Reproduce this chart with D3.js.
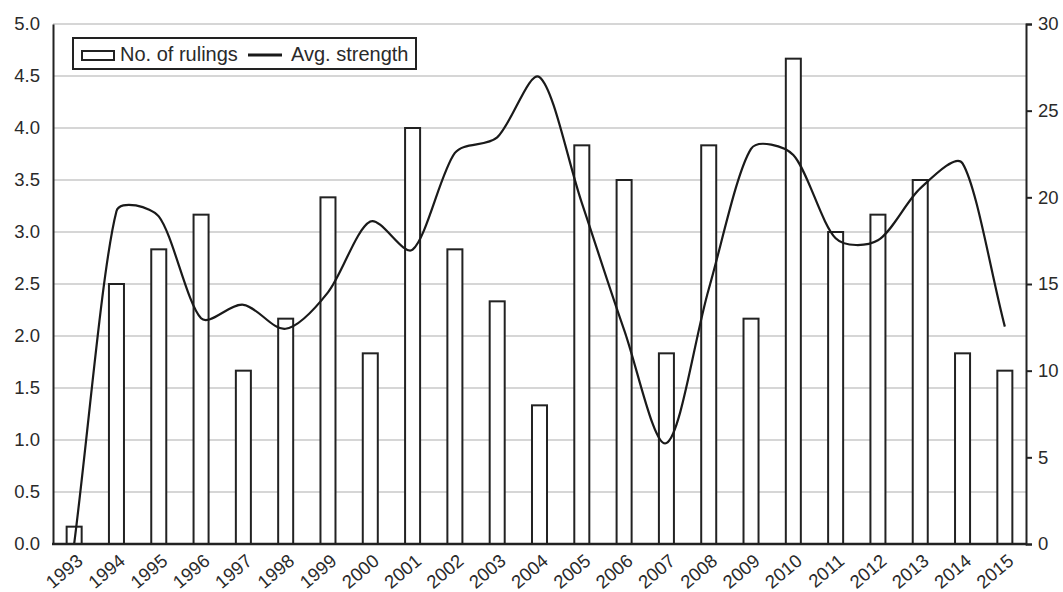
<!DOCTYPE html>
<html>
<head>
<meta charset="utf-8">
<script src="https://cdn.jsdelivr.net/npm/d3@7"></script>
<style>
  html, body { margin: 0; padding: 0; background: #fff; }
  svg { display: block; font-family: "Liberation Sans", Arial, sans-serif; }
</style>
</head>
<body>
<svg id="chart" width="1063" height="592"></svg>
<script>
const years = ["1993","1994","1995","1996","1997","1998","1999","2000","2001","2002","2003","2004","2005","2006","2007","2008","2009","2010","2011","2012","2013","2014","2015"];
const rulings = [1,15,17,19,10,13,20,11,24,17,14,8,23,21,11,23,13,28,18,19,21,11,10];
const strength = [0.0,3.2,3.15,2.17,2.3,2.07,2.42,3.1,2.83,3.76,3.91,4.49,3.28,2.06,0.97,2.45,3.8,3.74,2.94,2.92,3.42,3.66,2.09];
const leftTicks = [0,0.5,1,1.5,2,2.5,3,3.5,4,4.5,5];
const rightTicks = [0,5,10,15,20,25,30];
const legendLabels = ["No. of rulings","Avg. strength"];

const svg = d3.select("#chart");
const m = {left: 53, right: 1026, top: 24, bottom: 544};

const x = d3.scaleBand().domain(years).range([m.left, m.right]).paddingInner(0.645).paddingOuter(0.3225);
const xc = d3.scaleBand().domain(years).range([m.left, m.right]);
const yL = d3.scaleLinear().domain([0,5]).range([m.bottom, m.top]);
const yR = d3.scaleLinear().domain([0,30]).range([m.bottom, m.top]);

// gridlines
svg.append("g").selectAll("line").data(leftTicks.slice(1)).join("line")
  .attr("x1", m.left).attr("x2", m.right)
  .attr("y1", d => yL(d)).attr("y2", d => yL(d))
  .attr("stroke", "#d6d6d6").attr("stroke-width", 2);

// bars
svg.append("g").selectAll("rect").data(years).join("rect")
  .attr("x", d => x(d))
  .attr("y", (d,i) => yR(rulings[i]))
  .attr("width", x.bandwidth())
  .attr("height", (d,i) => m.bottom - yR(rulings[i]))
  .attr("fill", "#fff").attr("stroke", "#222").attr("stroke-width", 2);

// smoothed line (chord-weighted Bezier smoothing, as in spreadsheet charts)
function smoothCurve(context) {
  let pts = [];
  return {
    areaStart() {}, areaEnd() {},
    lineStart() { pts = []; },
    point(px, py) { pts.push([+px, +py]); },
    lineEnd() {
      const n = pts.length;
      if (!n) return;
      const dist = (a, b) => Math.hypot(b[0]-a[0], b[1]-a[1]);
      context.moveTo(pts[0][0], pts[0][1]);
      for (let i = 0; i < n - 1; i++) {
        const p0 = pts[Math.max(i-1,0)], p1 = pts[i], p2 = pts[i+1], p3 = pts[Math.min(i+2,n-1)];
        const d01 = dist(p0,p1), d12 = dist(p1,p2), d23 = dist(p2,p3);
        const f1 = (d01 + d12) > 0 ? Math.min(d12 / (d01 + d12), i === 0 ? 1 : 0.5) / 3 : 0;
        const f2 = (d12 + d23) > 0 ? Math.min(d12 / (d12 + d23), i + 1 === n - 1 ? 1 : 0.5) / 3 : 0;
        const c1 = [p1[0] + (p2[0]-p0[0])*f1, p1[1] + (p2[1]-p0[1])*f1];
        const c2 = [p2[0] - (p3[0]-p1[0])*f2, p2[1] - (p3[1]-p1[1])*f2];
        context.bezierCurveTo(c1[0], c1[1], c2[0], c2[1], p2[0], p2[1]);
      }
    }
  };
}
const line = d3.line()
  .x((d,i) => xc(years[i]) + xc.bandwidth()/2)
  .y(d => yL(d))
  .curve(smoothCurve);
svg.append("path").datum(strength)
  .attr("d", line).attr("fill", "none")
  .attr("stroke", "#1a1a1a").attr("stroke-width", 2.2);

// left axis
const gL = svg.append("g").attr("transform", `translate(${m.left},0)`)
  .call(d3.axisLeft(yL).tickValues(leftTicks).tickFormat(d3.format(".1f")).tickSize(0).tickPadding(13));
gL.select(".domain").attr("stroke", "#222").attr("stroke-width", 2);
gL.selectAll("text").attr("font-size", 18.5).attr("fill", "#2a2a2a").attr("font-family", "Liberation Sans, Arial, sans-serif");

// right axis
const gR = svg.append("g").attr("transform", `translate(${m.right},0)`)
  .call(d3.axisRight(yR).tickValues(rightTicks).tickSize(6).tickPadding(6));
gR.select(".domain").attr("stroke", "#222").attr("stroke-width", 2);
gR.selectAll("line").attr("stroke", "#222").attr("stroke-width", 2);
gR.selectAll("text").attr("font-size", 18.5).attr("fill", "#2a2a2a").attr("font-family", "Liberation Sans, Arial, sans-serif");

// bottom axis
svg.append("line").attr("x1", m.left - 1).attr("x2", m.right + 1)
  .attr("y1", m.bottom).attr("y2", m.bottom)
  .attr("stroke", "#222").attr("stroke-width", 2.5);

// x labels
svg.append("g").selectAll("text").data(years).join("text")
  .attr("transform", d => `translate(${xc(d) + xc.bandwidth()/2 + 10},${m.bottom + 19}) rotate(-40)`)
  .attr("text-anchor", "end")
  .attr("font-size", 18.5).attr("fill", "#2a2a2a")
  .text(d => d);

// legend
const lg = svg.append("g");
lg.append("rect").attr("x", 73).attr("y", 38).attr("width", 343).attr("height", 31)
  .attr("fill", "#fff").attr("stroke", "#222").attr("stroke-width", 2);
lg.append("rect").attr("x", 82).attr("y", 51).attr("width", 32).attr("height", 9)
  .attr("fill", "#fff").attr("stroke", "#222").attr("stroke-width", 2);
lg.append("text").attr("x", 120).attr("y", 61).attr("font-size", 20).attr("fill", "#2a2a2a").text(legendLabels[0]);
lg.append("line").attr("x1", 248).attr("x2", 282).attr("y1", 55).attr("y2", 55)
  .attr("stroke", "#1a1a1a").attr("stroke-width", 3);
lg.append("text").attr("x", 291).attr("y", 61).attr("font-size", 20).attr("fill", "#2a2a2a").text(legendLabels[1]);
</script>
</body>
</html>
